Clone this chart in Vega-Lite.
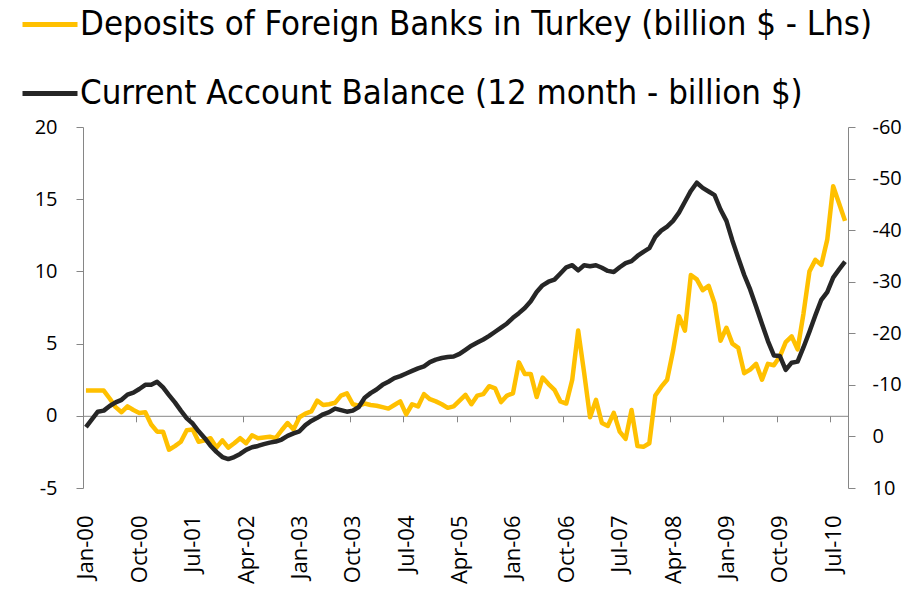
{
  "$schema": "https://vega.github.io/schema/vega-lite/v6.json",
  "width": 765,
  "height": 361,
  "autosize": "none",
  "padding": {"left": 83, "top": 127, "right": 72, "bottom": 102},
  "background": "white",
  "config": {"view": {"stroke": null}, "font": "Open Sans"},
  "data": {"values": [
    {"month": "Jan-00", "deposits": 1.75, "cab": -1.8},
    {"month": "Feb-00", "deposits": 1.75, "cab": -3.3},
    {"month": "Mar-00", "deposits": 1.75, "cab": -4.8},
    {"month": "Apr-00", "deposits": 1.75, "cab": -5.0},
    {"month": "May-00", "deposits": 1.2, "cab": -5.9},
    {"month": "Jun-00", "deposits": 0.6, "cab": -6.6},
    {"month": "Jul-00", "deposits": 0.25, "cab": -7.1},
    {"month": "Aug-00", "deposits": 0.65, "cab": -8.1},
    {"month": "Sep-00", "deposits": 0.4, "cab": -8.5},
    {"month": "Oct-00", "deposits": 0.2, "cab": -9.2},
    {"month": "Nov-00", "deposits": 0.25, "cab": -10.0},
    {"month": "Dec-00", "deposits": -0.6, "cab": -10.0},
    {"month": "Jan-01", "deposits": -1.1, "cab": -10.6},
    {"month": "Feb-01", "deposits": -1.1, "cab": -9.5},
    {"month": "Mar-01", "deposits": -2.35, "cab": -8.0},
    {"month": "Apr-01", "deposits": -2.1, "cab": -6.6},
    {"month": "May-01", "deposits": -1.8, "cab": -5.0},
    {"month": "Jun-01", "deposits": -1.0, "cab": -3.5},
    {"month": "Jul-01", "deposits": -0.95, "cab": -2.5},
    {"month": "Aug-01", "deposits": -1.8, "cab": -1.0},
    {"month": "Sep-01", "deposits": -1.7, "cab": 0.3},
    {"month": "Oct-01", "deposits": -1.55, "cab": 1.8},
    {"month": "Nov-01", "deposits": -2.2, "cab": 3.0},
    {"month": "Dec-01", "deposits": -1.7, "cab": 4.0},
    {"month": "Jan-02", "deposits": -2.2, "cab": 4.4},
    {"month": "Feb-02", "deposits": -1.9, "cab": 4.0},
    {"month": "Mar-02", "deposits": -1.55, "cab": 3.4},
    {"month": "Apr-02", "deposits": -1.9, "cab": 2.6},
    {"month": "May-02", "deposits": -1.35, "cab": 2.1},
    {"month": "Jun-02", "deposits": -1.55, "cab": 1.85},
    {"month": "Jul-02", "deposits": -1.5, "cab": 1.5},
    {"month": "Aug-02", "deposits": -1.45, "cab": 1.2},
    {"month": "Sep-02", "deposits": -1.55, "cab": 1.0},
    {"month": "Oct-02", "deposits": -1.0, "cab": 0.6},
    {"month": "Nov-02", "deposits": -0.5, "cab": -0.1},
    {"month": "Dec-02", "deposits": -0.95, "cab": -0.6},
    {"month": "Jan-03", "deposits": -0.1, "cab": -1.0},
    {"month": "Feb-03", "deposits": 0.15, "cab": -2.2},
    {"month": "Mar-03", "deposits": 0.3, "cab": -3.0},
    {"month": "Apr-03", "deposits": 1.05, "cab": -3.6},
    {"month": "May-03", "deposits": 0.75, "cab": -4.3},
    {"month": "Jun-03", "deposits": 0.8, "cab": -4.7},
    {"month": "Jul-03", "deposits": 0.9, "cab": -5.4},
    {"month": "Aug-03", "deposits": 1.4, "cab": -5.1},
    {"month": "Sep-03", "deposits": 1.55, "cab": -4.8},
    {"month": "Oct-03", "deposits": 0.8, "cab": -5.0},
    {"month": "Nov-03", "deposits": 0.7, "cab": -5.7},
    {"month": "Dec-03", "deposits": 0.85, "cab": -7.5},
    {"month": "Jan-04", "deposits": 0.75, "cab": -8.4},
    {"month": "Feb-04", "deposits": 0.7, "cab": -9.1},
    {"month": "Mar-04", "deposits": 0.6, "cab": -10.0},
    {"month": "Apr-04", "deposits": 0.5, "cab": -10.6},
    {"month": "May-04", "deposits": 0.75, "cab": -11.3},
    {"month": "Jun-04", "deposits": 1.0, "cab": -11.7},
    {"month": "Jul-04", "deposits": 0.1, "cab": -12.2},
    {"month": "Aug-04", "deposits": 0.8, "cab": -12.7},
    {"month": "Sep-04", "deposits": 0.65, "cab": -13.2},
    {"month": "Oct-04", "deposits": 1.5, "cab": -13.6},
    {"month": "Nov-04", "deposits": 1.15, "cab": -14.4},
    {"month": "Dec-04", "deposits": 1.0, "cab": -14.9},
    {"month": "Jan-05", "deposits": 0.8, "cab": -15.2},
    {"month": "Feb-05", "deposits": 0.55, "cab": -15.4},
    {"month": "Mar-05", "deposits": 0.65, "cab": -15.5},
    {"month": "Apr-05", "deposits": 1.05, "cab": -16.0},
    {"month": "May-05", "deposits": 1.45, "cab": -16.8},
    {"month": "Jun-05", "deposits": 0.8, "cab": -17.6},
    {"month": "Jul-05", "deposits": 1.4, "cab": -18.2},
    {"month": "Aug-05", "deposits": 1.5, "cab": -18.8},
    {"month": "Sep-05", "deposits": 2.05, "cab": -19.5},
    {"month": "Oct-05", "deposits": 1.9, "cab": -20.3},
    {"month": "Nov-05", "deposits": 0.95, "cab": -21.1},
    {"month": "Dec-05", "deposits": 1.4, "cab": -21.9},
    {"month": "Jan-06", "deposits": 1.55, "cab": -23.0},
    {"month": "Feb-06", "deposits": 3.7, "cab": -23.9},
    {"month": "Mar-06", "deposits": 2.9, "cab": -24.9},
    {"month": "Apr-06", "deposits": 2.9, "cab": -26.2},
    {"month": "May-06", "deposits": 1.3, "cab": -28.0},
    {"month": "Jun-06", "deposits": 2.65, "cab": -29.3},
    {"month": "Jul-06", "deposits": 2.2, "cab": -30.0},
    {"month": "Aug-06", "deposits": 1.8, "cab": -30.4},
    {"month": "Sep-06", "deposits": 1.0, "cab": -31.6},
    {"month": "Oct-06", "deposits": 0.85, "cab": -32.8},
    {"month": "Nov-06", "deposits": 2.5, "cab": -33.2},
    {"month": "Dec-06", "deposits": 5.9, "cab": -32.2},
    {"month": "Jan-07", "deposits": 3.0, "cab": -33.2},
    {"month": "Feb-07", "deposits": -0.1, "cab": -33.0},
    {"month": "Mar-07", "deposits": 1.1, "cab": -33.2},
    {"month": "Apr-07", "deposits": -0.5, "cab": -32.7},
    {"month": "May-07", "deposits": -0.7, "cab": -32.1},
    {"month": "Jun-07", "deposits": 0.2, "cab": -31.9},
    {"month": "Jul-07", "deposits": -1.1, "cab": -32.8},
    {"month": "Aug-07", "deposits": -1.6, "cab": -33.6},
    {"month": "Sep-07", "deposits": 0.4, "cab": -34.0},
    {"month": "Oct-07", "deposits": -2.1, "cab": -35.0},
    {"month": "Nov-07", "deposits": -2.15, "cab": -35.8},
    {"month": "Dec-07", "deposits": -1.9, "cab": -36.5},
    {"month": "Jan-08", "deposits": 1.4, "cab": -38.7},
    {"month": "Feb-08", "deposits": 2.0, "cab": -39.9},
    {"month": "Mar-08", "deposits": 2.5, "cab": -40.7},
    {"month": "Apr-08", "deposits": 4.5, "cab": -41.8},
    {"month": "May-08", "deposits": 6.9, "cab": -43.4},
    {"month": "Jun-08", "deposits": 5.9, "cab": -45.5},
    {"month": "Jul-08", "deposits": 9.75, "cab": -47.6},
    {"month": "Aug-08", "deposits": 9.45, "cab": -49.2},
    {"month": "Sep-08", "deposits": 8.7, "cab": -48.2},
    {"month": "Oct-08", "deposits": 9.0, "cab": -47.5},
    {"month": "Nov-08", "deposits": 7.8, "cab": -46.8},
    {"month": "Dec-08", "deposits": 5.2, "cab": -44.0},
    {"month": "Jan-09", "deposits": 6.1, "cab": -41.8},
    {"month": "Feb-09", "deposits": 5.0, "cab": -38.0},
    {"month": "Mar-09", "deposits": 4.7, "cab": -34.6},
    {"month": "Apr-09", "deposits": 2.95, "cab": -31.3},
    {"month": "May-09", "deposits": 3.2, "cab": -28.5},
    {"month": "Jun-09", "deposits": 3.6, "cab": -25.2},
    {"month": "Jul-09", "deposits": 2.5, "cab": -21.8},
    {"month": "Aug-09", "deposits": 3.6, "cab": -18.5},
    {"month": "Sep-09", "deposits": 3.5, "cab": -15.7},
    {"month": "Oct-09", "deposits": 4.1, "cab": -15.6},
    {"month": "Nov-09", "deposits": 5.1, "cab": -12.9},
    {"month": "Dec-09", "deposits": 5.5, "cab": -14.3},
    {"month": "Jan-10", "deposits": 4.6, "cab": -14.5},
    {"month": "Feb-10", "deposits": 7.1, "cab": -17.3},
    {"month": "Mar-10", "deposits": 10.0, "cab": -20.3},
    {"month": "Apr-10", "deposits": 10.8, "cab": -23.5},
    {"month": "May-10", "deposits": 10.45, "cab": -26.5},
    {"month": "Jun-10", "deposits": 12.2, "cab": -28.0},
    {"month": "Jul-10", "deposits": 15.9, "cab": -30.8},
    {"month": "Aug-10", "deposits": 14.7, "cab": -32.4},
    {"month": "Sep-10", "deposits": 13.5, "cab": -33.9}
  ]},
  "layer": [
    {
      "mark": {"type": "line", "strokeWidth": 4.5, "strokeJoin": "round"},
      "encoding": {
        "x": {
          "field": "month", "type": "ordinal", "sort": null,
          "scale": {"type": "point", "padding": 0.5},
          "axis": {
            "orient": "bottom", "title": null,
            "values": ["Jan-00", "Oct-00", "Jul-01", "Apr-02", "Jan-03", "Oct-03", "Jul-04", "Apr-05", "Jan-06", "Oct-06", "Jul-07", "Apr-08", "Jan-09", "Oct-09", "Jul-10"],
            "labelAngle": -90, "labelFont": "Open Sans", "labelFontSize": 22, "labelColor": "#000000",
            "domain": false, "ticks": false, "labelPadding": 27, "grid": false
          }
        },
        "y": {
          "field": "deposits", "type": "quantitative",
          "scale": {"domain": [-5, 20], "nice": false, "zero": false},
          "axis": {
            "orient": "left", "title": null, "values": [-5, 0, 5, 10, 15, 20], "grid": false,
            "domainColor": "#868686", "tickColor": "#868686", "tickSize": 7, "labelPadding": 19,
            "labelFont": "Open Sans", "labelFontSize": 20, "labelColor": "#000000",
            "labelExpr": "'' + datum.value"
          }
        },
        "color": {
          "datum": "Deposits of Foreign Banks in Turkey (billion $ - Lhs)", "type": "nominal",
          "scale": {
            "domain": ["Deposits of Foreign Banks in Turkey (billion $ - Lhs)", "Current Account Balance (12 month - billion $)"],
            "range": ["#FFC000", "#262626"]
          },
          "legend": {
            "orient": "none", "legendX": -63, "legendY": -132.5, "direction": "vertical", "title": null,
            "symbolType": "stroke", "symbolSize": 3025, "symbolStrokeWidth": 5,
            "labelFont": "DejaVu Sans Condensed, sans-serif", "labelFontSize": 34.5, "labelFontWeight": "normal", "labelColor": "#000000",
            "labelOffset": 0, "rowPadding": 22, "labelLimit": 1000, "padding": 0
          }
        }
      }
    },
    {
      "mark": {"type": "line", "strokeWidth": 4.5, "strokeJoin": "round"},
      "encoding": {
        "x": {
          "field": "month", "type": "ordinal", "sort": null,
          "scale": {"type": "point", "padding": 0.5},
          "axis": {
            "orient": "bottom", "title": null,
            "values": ["Jan-00", "Oct-00", "Jul-01", "Apr-02", "Jan-03", "Oct-03", "Jul-04", "Apr-05", "Jan-06", "Oct-06", "Jul-07", "Apr-08", "Jan-09", "Oct-09", "Jul-10"],
            "labels": false, "domain": true, "domainColor": "#868686", "ticks": true, "tickColor": "#868686",
            "tickSize": 6, "tickOffset": -2.965, "offset": -72.2, "grid": false
          }
        },
        "y": {
          "field": "cab", "type": "quantitative",
          "scale": {"domain": [-60, 10], "reverse": true, "nice": false, "zero": false},
          "axis": {
            "orient": "right", "title": null, "values": [-60, -50, -40, -30, -20, -10, 0, 10], "grid": false,
            "domainColor": "#868686", "tickColor": "#868686", "tickSize": 7, "labelPadding": 17,
            "labelFont": "Open Sans", "labelFontSize": 20, "labelColor": "#000000",
            "labelExpr": "'' + datum.value"
          }
        },
        "color": {"datum": "Current Account Balance (12 month - billion $)", "type": "nominal"}
      }
    }
  ],
  "resolve": {"scale": {"y": "independent"}, "axis": {"y": "independent", "x": "independent"}}
}
